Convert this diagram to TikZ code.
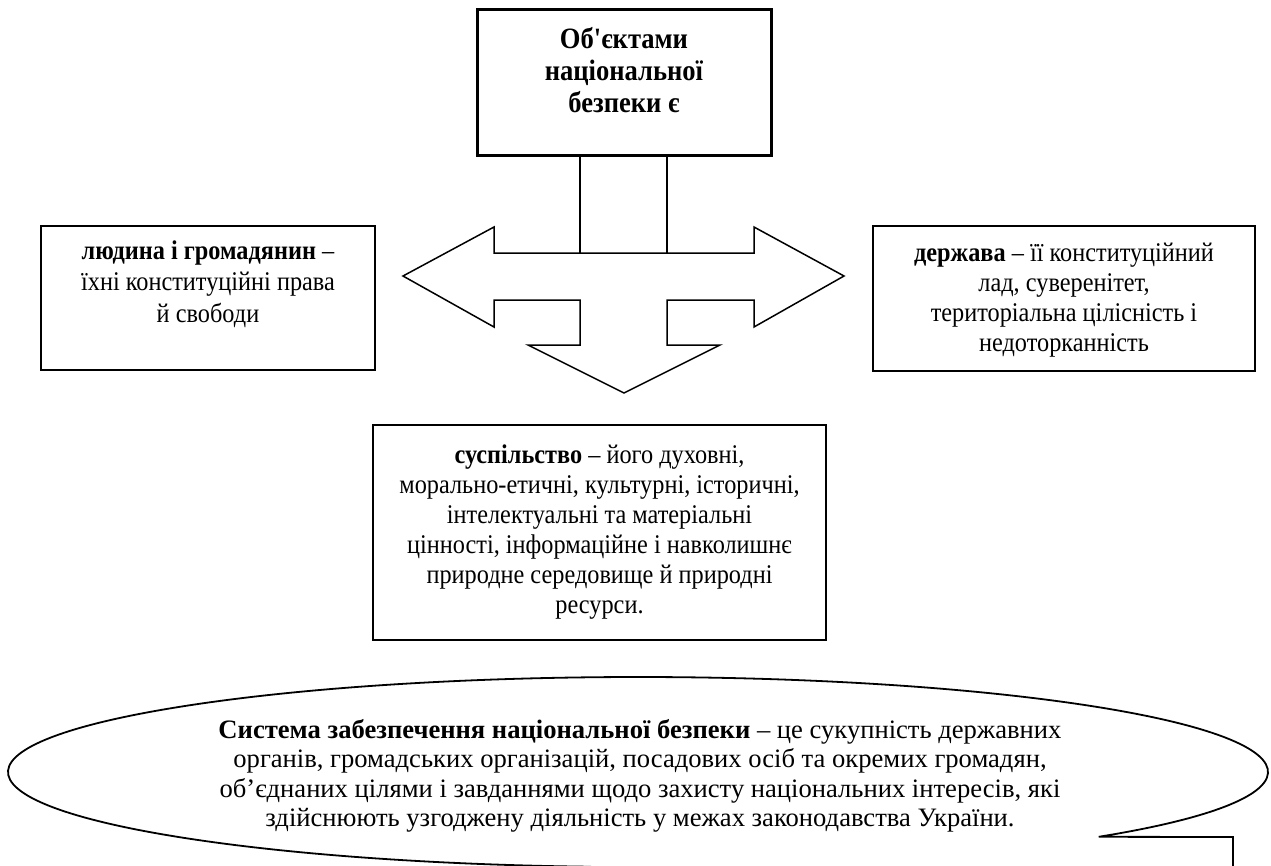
\documentclass[tikz,border=0pt]{standalone}
\usepackage{fontspec}
\setmainfont{Liberation Serif}[Ligatures=TeXOff, FakeStretch=0.9]
\newfontfamily\ellfont{Liberation Serif}[Ligatures=TeXOff]
\usetikzlibrary{calc}
\begin{document}
\begin{tikzpicture}[x=1pt,y=-1pt,
  box/.style={draw=black, line width=1.5pt, fill=white, inner sep=0pt},
  thickbox/.style={draw=black, line width=3pt, fill=white, inner sep=0pt},
  txt/.style={align=center, inner sep=0pt, font=\fontsize{27}{30}\selectfont},
  txtw/.style={align=center, inner sep=0pt, font=\fontsize{27}{31.5}\selectfont},
  shapeline/.style={draw=black, line width=1.5pt, line join=miter}]
\useasboundingbox (0,0) rectangle (1271,865);
\clip (0,0) rectangle (1271,865);
\fill[white] (0,0) rectangle (1271,865);

% top box
\node[thickbox, minimum width=294, minimum height=146] (top) at (624,82) {};
\node[align=center, inner sep=0pt, font=\fontsize{29.5}{32}\selectfont] (toptxt) at (624,70) {\textbf{Об'єктами}\\\textbf{національної}\\\textbf{безпеки є}};

% three-way arrow
\coordinate (j1) at (580,253);
\coordinate (j2) at (667,253);
\draw[shapeline, fill=white] (403,276) -- (494,227) -- (494,253) -- (754,253) -- (754,227) -- (844,276)
  -- (754,327) -- (754,300) -- (667,300) -- (667,345) -- (720,345) -- (624,393) -- (528,345)
  -- (580,345) -- (580,300) -- (494,300) -- (494,327) -- cycle;

% connectors from the top box
\draw[line width=1.5pt] (top.south -| j1) -- (j1);
\draw[line width=1.5pt] (top.south -| j2) -- (j2);

% left box
\node[box, minimum width=334, minimum height=144] (lbox) at (208,298) {};
\node[txtw] (ltxt) at (208,284) {\textbf{людина і громадянин} –\\їхні конституційні права\\й свободи};

% right box
\node[box, minimum width=382, minimum height=145] (rbox) at (1064,298.5) {};
\node[txt] (rtxt) at (1064,300) {\textbf{держава} – її конституційний\\лад, суверенітет,\\територіальна цілісність і\\недоторканність};

% bottom box
\node[box, minimum width=453, minimum height=215] (bbox) at (599.5,532.5) {};
\node[txt] (btxt) at (599.5,532) {\textbf{суспільство} – його духовні,\\морально-етичні, культурні, історичні,\\інтелектуальні та матеріальні\\цінності, інформаційне і навколишнє\\природне середовище й природні\\ресурси.};

% callout
\draw[line width=1.8pt, line join=miter] ($(638,772)+(43:630 and 95)$)
  arc[start angle=43, end angle=-265.6, x radius=630, y radius=95]
  -- (1233,950) -- (1233,837) -- cycle;
\node[align=center, inner sep=0pt, font=\ellfont\fontsize{26.6}{29.5}\selectfont] (sys) at (640,776)
  {\textbf{Система забезпечення національної безпеки} – це сукупність державних\\органів, громадських організацій, посадових осіб та окремих громадян,\\об’єднаних цілями і завданнями щодо захисту національних інтересів, які\\здійснюють узгоджену діяльність у межах законодавства України.};
\end{tikzpicture}
\end{document}
